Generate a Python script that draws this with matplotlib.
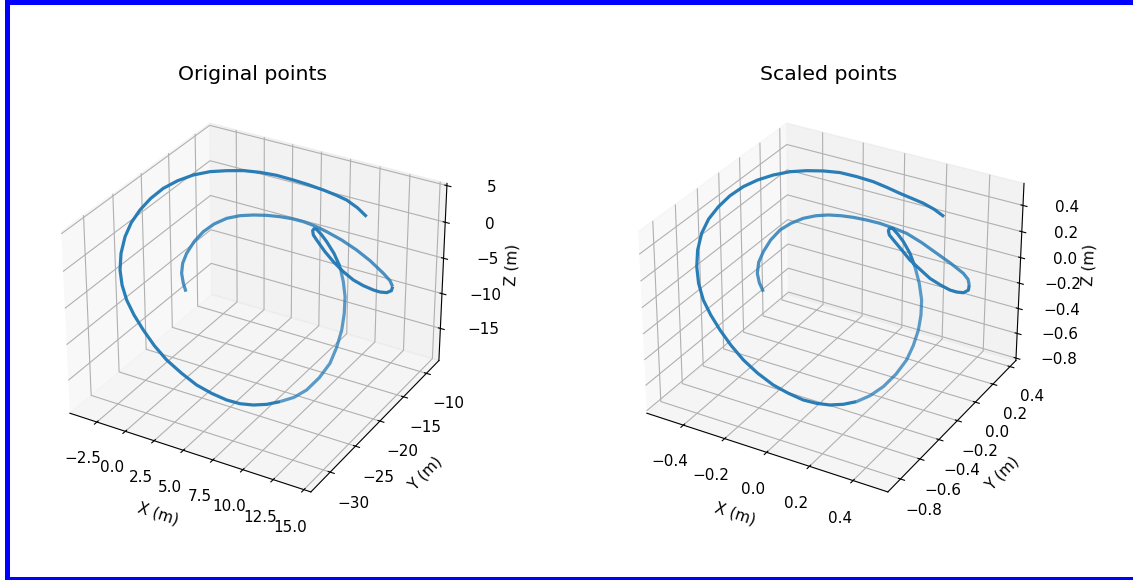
import numpy as np
import matplotlib
matplotlib.use('Agg')
import matplotlib.pyplot as plt
from matplotlib.patches import Rectangle

# curve, left panel
x_orig = [0.88,0.28,-0.41,-0.85,-1.11,-1.28,-1.2,-0.83,-0.17,0.63,1.6,2.51,3.49,4.27,5.14,6.1,7.16,8.37,9.7,11.09,12.6,13.36,13.76,13.89,13.66,13.19,12.63,11.68,10.64,9.39,8.01,6.58,5.0,4.39,4.0,3.8,3.89,4.41,5.0,5.87,6.77,7.48,8.08,8.5,8.8,9.21,9.41,9.35,9.13,8.75,8.08,7.46,6.71,5.94,5.01,3.94,2.76,1.46,0.03,-1.18,-2.42,-3.5,-4.46,-5.25,-5.88,-6.46,-6.85,-7.03,-6.93,-6.69,-6.18,-5.5,-4.56,-3.34,-1.93,-0.59,0.89,2.38,4.01,5.5,7.04,8.35,9.57,10.96,12.33]
y_orig = [-24.21,-23.41,-22.27,-21.14,-19.84,-18.08,-16.5,-15.24,-14.24,-13.42,-12.97,-12.37,-11.96,-11.42,-11.07,-10.96,-11.09,-10.89,-10.99,-11.59,-12.54,-13.03,-13.47,-14.06,-14.47,-14.68,-14.65,-14.39,-13.89,-12.93,-11.65,-9.96,-7.93,-7.18,-6.41,-5.64,-5.31,-5.46,-5.8,-6.31,-7.17,-8.14,-9.18,-10.32,-11.53,-13.55,-15.39,-17.42,-19.46,-21.1,-22.32,-23.52,-24.4,-25.24,-25.72,-26.22,-26.46,-26.45,-26.18,-25.89,-25.31,-24.75,-24.09,-23.28,-22.33,-20.94,-19.37,-17.83,-16.39,-14.86,-13.52,-12.19,-11.17,-10.55,-10.37,-10.04,-10.04,-10.13,-10.53,-11.01,-11.61,-12.27,-13.0,-14.22,-15.72]
z_orig = [-5.95,-5.58,-5.2,-4.7,-4.2,-3.7,-3.2,-2.7,-2.2,-1.95,-1.7,-1.7,-1.7,-1.95,-2.2,-2.45,-2.7,-3.45,-4.2,-4.7,-5.2,-5.58,-5.95,-6.08,-6.2,-6.2,-6.2,-6.2,-6.2,-6.2,-6.2,-6.45,-6.7,-6.7,-6.7,-6.95,-7.2,-7.7,-8.2,-9.2,-10.2,-11.45,-12.7,-14.2,-15.7,-16.7,-17.7,-18.45,-18.95,-19.08,-19.2,-19.08,-18.95,-18.58,-18.2,-17.45,-16.7,-15.7,-14.7,-13.45,-12.2,-10.95,-9.7,-8.45,-7.2,-5.95,-4.7,-3.7,-2.7,-1.83,-0.95,-0.33,0.3,0.93,1.55,1.93,2.3,2.55,2.8,3.05,3.3,3.55,3.8,4.05,4.3]

# same for the right panel
x_scaled = [-.257,-.299,-.335,-.363,-.378,-.388,-.383,-.358,-.319,-.276,-.226,-.178,-.124,-.072,-.016,.045,.108,.18,.256,.332,.403,.433,.449,.462,.451,.424,.393,.337,.276,.204,.129,.05,-.031,-.068,-.09,-.103,-.1,-.068,-.031,.015,.061,.111,.153,.17,.18,.196,.201,.197,.186,.169,.14,.106,.064,.02,-.031,-.09,-.156,-.23,-.307,-.376,-.443,-.503,-.557,-.609,-.651,-.684,-.706,-.715,-.704,-.684,-.648,-.606,-.55,-.482,-.404,-.328,-.246,-.158,-.067,.015,.096,.167,.237,.307,.379]
y_scaled = [-.426,-.381,-.328,-.258,-.182,-.089,-.005,.052,.098,.139,.161,.186,.203,.229,.249,.256,.257,.258,.247,.223,.196,.178,.154,.114,.086,.075,.076,.099,.131,.189,.25,.34,.431,.469,.508,.548,.577,.566,.543,.514,.466,.402,.334,.29,.241,.149,.066,-.038,-.149,-.252,-.328,-.391,-.438,-.479,-.507,-.533,-.546,-.547,-.531,-.513,-.486,-.456,-.421,-.364,-.299,-.225,-.142,-.055,.021,.098,.161,.221,.268,.302,.311,.325,.325,.31,.286,.247,.204,.168,.132,.084,.022]
z_scaled = [-.058,-.037,-.016,.012,.039,.067,.095,.122,.15,.164,.178,.178,.178,.164,.15,.136,.122,.081,.039,.012,-.016,-.037,-.058,-.065,-.072,-.072,-.072,-.072,-.072,-.072,-.072,-.085,-.099,-.099,-.099,-.113,-.127,-.155,-.182,-.238,-.293,-.363,-.432,-.515,-.598,-.654,-.709,-.751,-.778,-.785,-.792,-.785,-.778,-.758,-.737,-.695,-.654,-.598,-.543,-.474,-.404,-.335,-.266,-.196,-.127,-.058,.012,.067,.122,.171,.22,.254,.289,.323,.358,.379,.4,.414,.427,.441,.455,.469,.483,.497,.511]

x_ticks_orig = [-2.5, 0.0, 2.5, 5.0, 7.5, 10.0, 12.5, 15.0]
y_ticks_orig = [-30, -25, -20, -15, -10]
z_ticks_orig = [-15, -10, -5, 0, 5]
x_ticks_scaled = [-0.4, -0.2, 0.0, 0.2, 0.4]
y_ticks_scaled = [-0.8, -0.6, -0.4, -0.2, 0.0, 0.2, 0.4]
z_ticks_scaled = [-0.8, -0.6, -0.4, -0.2, 0.0, 0.2, 0.4]

W, H = 1133, 580
S = 429

def panel(cx, title, xs, ys, zs, xlim, ylim, zlim, xt, yt, zt):
    ax = fig.add_axes([(cx-S/2)/W, 1-(90+S)/H, S/W, S/H], projection='3d')
    # depth shading of the original, lighter on the far parts
    for a, b, al in [(0, 23, 0.8), (22, 41, 0.95), (40, 51, 0.72), (50, len(xs), 0.95)]:
        ax.plot(xs[a:b], ys[a:b], zs[a:b], color='#1f77b4', lw=2.3, alpha=al, solid_capstyle='butt')
    ax.set_xlim(*xlim)
    ax.set_ylim(*ylim)
    ax.set_zlim(*zlim)
    ax.set_xticks(xt)
    ax.set_yticks(yt)
    ax.set_zticks(zt)
    ax.tick_params(labelsize=11, pad=7)
    ax.zaxis.set_tick_params(labelsize=11, pad=11.5)
    ax.set_xlabel('X (m)', fontsize=11, labelpad=11)
    ax.set_ylabel('Y (m)', fontsize=11, labelpad=11)
    ax.set_zlabel('Z (m)', fontsize=11, labelpad=10)
    ax.set_title(title, fontsize=14.7, pad=7)
    return ax

fig = plt.figure(figsize=(W/100, H/100), dpi=100)
panel(252, 'Original points', x_orig, y_orig, z_orig, (-4.9, 15.56), (-33.7, -7.2), (-19.7, 5.3),
      x_ticks_orig, y_ticks_orig, z_ticks_orig)
panel(829, 'Scaled points', x_scaled, y_scaled, z_scaled, (-0.58, 0.557), (-0.927, 0.47), (-0.82, 0.566),
      x_ticks_scaled, y_ticks_scaled, z_ticks_scaled)

# blue frame of the screenshot
for r in [(5, 0, W-5, 5), (5, 0, 5, H), (5, H-3, W-5, 3)]:
    fig.add_artist(Rectangle((r[0]/W, 1-(r[1]+r[3])/H), r[2]/W, r[3]/H, transform=fig.transFigure, color='#0000ff', lw=0))

fig.savefig('out.png', dpi=100)
